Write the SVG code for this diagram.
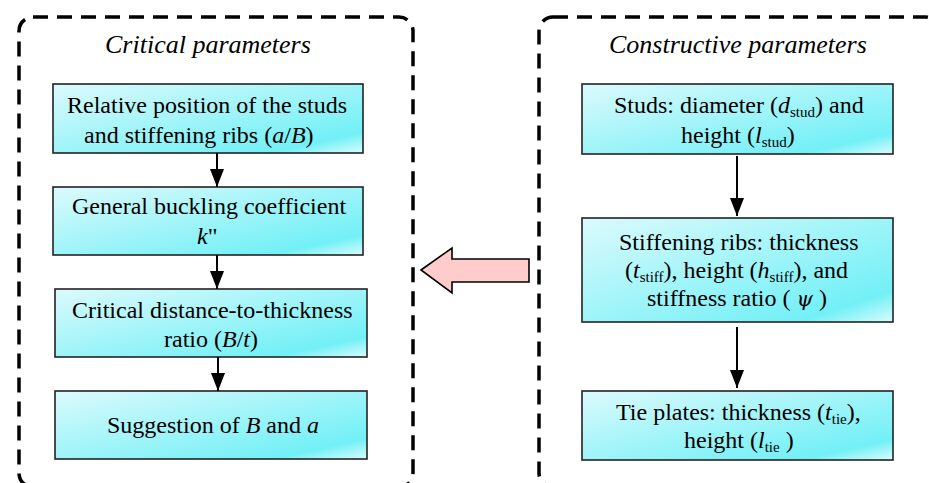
<svg xmlns="http://www.w3.org/2000/svg" width="929" height="483" viewBox="0 0 929 483">
<defs>
<linearGradient id="cy" x1="0" y1="0" x2="1" y2="1">
<stop offset="0" stop-color="#dcfafc"/>
<stop offset="0.85" stop-color="#72f0f6"/>
<stop offset="1" stop-color="#d8fcfd"/>
</linearGradient>
<marker id="ah" viewBox="0 0 18 14" refX="18" refY="7" markerWidth="18" markerHeight="14" markerUnits="userSpaceOnUse" orient="auto">
<path d="M0,0 L18,7 L0,14 z" fill="#000"/>
</marker>
</defs>
<rect width="929" height="483" fill="#fff"/>
<g id="group-critical">
<rect x="19" y="17" width="394" height="470" rx="14" fill="none" stroke="#000" stroke-width="3.5" stroke-dasharray="15 9"/>
<text x="105" y="53" font-family="Times New Roman" font-size="26" font-style="italic">Critical parameters</text>
</g>
<g id="group-constructive">
<rect x="539" y="17" width="400" height="470" rx="14" fill="none" stroke="#000" stroke-width="3.5" stroke-dasharray="15 9"/>
<text x="609" y="53" font-family="Times New Roman" font-size="26" font-style="italic">Constructive parameters</text>
</g>
<g id="n-relpos">
<rect x="53" y="84" width="310" height="69" fill="url(#cy)" stroke="#222" stroke-width="1.6"/>
<text x="67" y="113" font-family="Times New Roman" font-size="24">Relative position of  the studs</text>
<text x="84" y="143" font-family="Times New Roman" font-size="24">and stiffening ribs (<tspan font-style="italic">a</tspan>/<tspan font-style="italic">B</tspan>)</text>
</g>
<g id="n-buckling">
<rect x="53" y="187" width="310" height="68" fill="url(#cy)" stroke="#222" stroke-width="1.6"/>
<text x="72" y="214" font-family="Times New Roman" font-size="24">General buckling coefficient</text>
<text x="197" y="244" font-family="Times New Roman" font-size="24"><tspan font-style="italic">k</tspan>"</text>
</g>
<g id="n-critical">
<rect x="55" y="289" width="312" height="68" fill="url(#cy)" stroke="#222" stroke-width="1.6"/>
<text x="72" y="318" font-family="Times New Roman" font-size="24">Critical distance-to-thickness</text>
<text x="164" y="347" font-family="Times New Roman" font-size="24">ratio (<tspan font-style="italic">B</tspan>/<tspan font-style="italic">t</tspan>)</text>
</g>
<g id="n-suggestion">
<rect x="55" y="391" width="312" height="68" fill="url(#cy)" stroke="#222" stroke-width="1.6"/>
<text x="107" y="433" font-family="Times New Roman" font-size="24">Suggestion of <tspan font-style="italic">B</tspan> and <tspan font-style="italic">a</tspan></text>
</g>
<g id="n-studs">
<rect x="582" y="84" width="311" height="70" fill="url(#cy)" stroke="#222" stroke-width="1.6"/>
<text x="614" y="113" font-family="Times New Roman" font-size="24">Studs: diameter (<tspan font-style="italic">d</tspan><tspan font-size="15" dy="4">stud</tspan><tspan dy="-4">) and</tspan></text>
<text x="681" y="143" font-family="Times New Roman" font-size="24">height (<tspan font-style="italic">l</tspan><tspan font-size="15" dy="4">stud</tspan><tspan dy="-4">)</tspan></text>
</g>
<g id="n-ribs">
<rect x="582" y="218" width="311" height="104" fill="url(#cy)" stroke="#222" stroke-width="1.6"/>
<text x="619" y="250" font-family="Times New Roman" font-size="24">Stiffening ribs: thickness</text>
<text x="625" y="278" font-family="Times New Roman" font-size="24">(<tspan font-style="italic">t</tspan><tspan font-size="15" dy="4">stiff</tspan><tspan dy="-4">), height (</tspan><tspan font-style="italic">h</tspan><tspan font-size="15" dy="4">stiff</tspan><tspan dy="-4">), and</tspan></text>
<text x="647" y="306" font-family="Times New Roman" font-size="24">stiffness ratio ( <tspan font-family="DejaVu Serif" font-style="italic" font-size="21">&#968;</tspan> )</text>
</g>
<g id="n-tie">
<rect x="582" y="391" width="311" height="69" fill="url(#cy)" stroke="#222" stroke-width="1.6"/>
<text x="616" y="420" font-family="Times New Roman" font-size="24">Tie plates: thickness (<tspan font-style="italic">t</tspan><tspan font-size="15" dy="4">tie</tspan><tspan dy="-4">),</tspan></text>
<text x="684" y="448" font-family="Times New Roman" font-size="24">height (<tspan font-style="italic">l</tspan><tspan font-size="15" dy="4">tie</tspan><tspan dy="-4"> )</tspan></text>
</g>
<g id="connectors" stroke="#000" stroke-width="2" fill="none" marker-end="url(#ah)">
<line x1="217" y1="153" x2="217" y2="187"/>
<line x1="217" y1="255" x2="217" y2="289"/>
<line x1="218" y1="357" x2="218" y2="391"/>
<line x1="737" y1="156" x2="737" y2="216"/>
<line x1="737" y1="327" x2="737" y2="388"/>
<polygon points="421,270 452,248 452,259 529,259 529,282 452,282 452,293" fill="#ffcccc" stroke="#000" stroke-width="1.6" marker-end="none"/>
</g>
</svg>
